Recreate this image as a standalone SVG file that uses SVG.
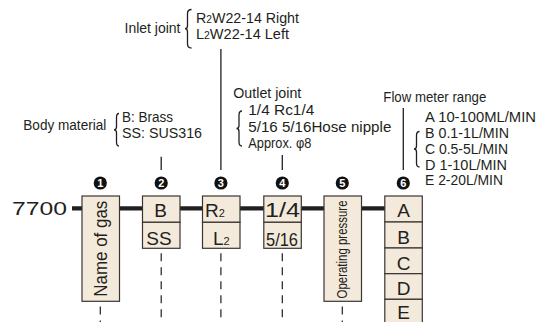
<svg xmlns="http://www.w3.org/2000/svg" width="537" height="322" viewBox="0 0 537 322">
<style>
.lbl{font-family:"Liberation Sans",Arial,sans-serif;font-size:14px;fill:#231f20}
.box{fill:#f4eadb;stroke:#3a3533;stroke-width:1.2}
.big{font-family:"Liberation Sans",Arial,sans-serif;font-size:19px;fill:#231f20}
.sub{font-size:10px}
.num{font-family:"Liberation Sans",Arial,sans-serif;font-size:11px;font-weight:bold;fill:#fff;text-anchor:middle}
.ln{stroke:#231f20;stroke-width:1.3;fill:none}
.dash{stroke:#231f20;stroke-width:1.2;stroke-dasharray:8 6;fill:none}
.brace{stroke:#231f20;stroke-width:1.3;fill:none}
</style>
<rect width="537" height="322" fill="#fff"/>
<g id="connectors">
<line x1="72" y1="208.3" x2="385" y2="208.3" stroke="#231f20" stroke-width="4.3"/>
<line class="ln" x1="161.2" y1="156.7" x2="161.2" y2="170"/>
<line class="ln" x1="220.9" y1="49" x2="220.9" y2="170"/>
<line class="ln" x1="282.3" y1="155" x2="282.3" y2="170"/>
<line class="ln" x1="403.3" y1="108" x2="403.3" y2="170"/>
<line class="dash" x1="100.3" y1="306.5" x2="100.3" y2="322"/>
<line class="dash" x1="161.2" y1="253.3" x2="161.2" y2="322"/>
<line class="dash" x1="220.9" y1="253.3" x2="220.9" y2="322"/>
<line class="dash" x1="282.3" y1="253.3" x2="282.3" y2="322"/>
<line class="dash" x1="342.3" y1="306.5" x2="342.3" y2="322"/>
</g>
<g id="code">
<text class="lbl" x="12" y="215" style="font-size:19px" textLength="55" lengthAdjust="spacingAndGlyphs">7700</text>
</g>
<g id="label-inlet">
<text class="lbl" x="124.5" y="33" textLength="56" lengthAdjust="spacingAndGlyphs">Inlet joint</text>
<path class="brace" d="M191.5,9.5 Q187.5,9.5 187.5,13.5 L187.5,25.7 Q187.5,28.7 185,28.7 Q187.5,28.7 187.5,31.7 L187.5,44 Q187.5,48 191.5,48"/>
<text class="lbl" x="196" y="23.3" textLength="103" lengthAdjust="spacingAndGlyphs">R<tspan class="sub">2</tspan>W22-14 Right</text>
<text class="lbl" x="196" y="39" textLength="93" lengthAdjust="spacingAndGlyphs">L<tspan class="sub">2</tspan>W22-14 Left</text>
</g>
<g id="label-body">
<text class="lbl" x="23.3" y="130" textLength="83" lengthAdjust="spacingAndGlyphs">Body material</text>
<path class="brace" d="M119,113.5 Q116.5,113.5 116.5,117.5 L116.5,126.8 Q116.5,129.8 114,129.8 Q116.5,129.8 116.5,132.8 L116.5,142 Q116.5,146 119,146"/>
<text class="lbl" x="122" y="121.7" textLength="51" lengthAdjust="spacingAndGlyphs">B: Brass</text>
<text class="lbl" x="122" y="138" textLength="80" lengthAdjust="spacingAndGlyphs">SS: SUS316</text>
</g>
<g id="label-outlet">
<text class="lbl" x="233.3" y="98.3" textLength="68" lengthAdjust="spacingAndGlyphs">Outlet joint</text>
<path class="brace" d="M242,111 Q239,111 239,115 L239,125.5 Q239,128.5 236.5,128.5 Q239,128.5 239,131.5 L239,142 Q239,146 242,146"/>
<text class="lbl" x="248.3" y="115" textLength="66" lengthAdjust="spacingAndGlyphs">1/4 Rc1/4</text>
<text class="lbl" x="248.3" y="131.5" textLength="143" lengthAdjust="spacingAndGlyphs">5/16 5/16Hose nipple</text>
<text class="lbl" x="248.3" y="148.3" textLength="63" lengthAdjust="spacingAndGlyphs">Approx. φ8</text>
</g>
<g id="label-flow">
<text class="lbl" x="383.3" y="102.3" textLength="103" lengthAdjust="spacingAndGlyphs">Flow meter range</text>
<path class="brace" d="M419.5,131.5 Q416.5,131.5 416.5,135.5 L416.5,146 Q416.5,149 414,149 Q416.5,149 416.5,152 L416.5,163 Q416.5,167 419.5,167"/>
<text class="lbl" x="425" y="122" textLength="111" lengthAdjust="spacingAndGlyphs">A 10-100ML/MIN</text>
<text class="lbl" x="425" y="138" textLength="84" lengthAdjust="spacingAndGlyphs">B 0.1-1L/MIN</text>
<text class="lbl" x="425" y="154" textLength="83" lengthAdjust="spacingAndGlyphs">C 0.5-5L/MIN</text>
<text class="lbl" x="425" y="169.5" textLength="82" lengthAdjust="spacingAndGlyphs">D 1-10L/MIN</text>
<text class="lbl" x="425" y="185" textLength="78" lengthAdjust="spacingAndGlyphs">E 2-20L/MIN</text>
</g>
<g id="node1">
<circle cx="100.3" cy="183" r="6.6" fill="#111"/>
<text class="num" x="100.3" y="187">1</text>
<rect class="box" x="82" y="196" width="37.5" height="105.3"/>
<text class="big" transform="translate(106.5,296.7) rotate(-90)" style="font-size:18px" textLength="96" lengthAdjust="spacingAndGlyphs">Name of gas</text>
</g>
<g id="node2">
<circle cx="161.2" cy="183" r="6.6" fill="#111"/>
<text class="num" x="161.2" y="187">2</text>
<rect class="box" x="142.5" y="196" width="37.5" height="26.3"/>
<rect class="box" x="142.5" y="222.3" width="37.5" height="26"/>
<text class="big" x="160.5" y="216.7" text-anchor="middle">B</text>
<text class="big" x="159" y="245" text-anchor="middle">SS</text>
</g>
<g id="node3">
<circle cx="220.9" cy="183" r="6.6" fill="#111"/>
<text class="num" x="220.9" y="187">3</text>
<rect class="box" x="202.5" y="196" width="37.5" height="26.3"/>
<rect class="box" x="202.5" y="222.3" width="37.5" height="26"/>
<text class="big" x="205" y="216.7">R<tspan class="sub" style="font-size:11px">2</tspan></text>
<text class="big" x="213" y="245">L<tspan class="sub" style="font-size:11px">2</tspan></text>
</g>
<g id="node4">
<circle cx="282.3" cy="183" r="6.6" fill="#111"/>
<text class="num" x="282.3" y="187">4</text>
<rect class="box" x="263.8" y="196" width="37.5" height="26.3"/>
<rect class="box" x="263.8" y="222.3" width="37.5" height="26"/>
<text class="big" x="265" y="216.7" style="font-size:20px" textLength="35" lengthAdjust="spacingAndGlyphs">1/4</text>
<text class="big" x="266" y="246" style="font-size:18px" textLength="32" lengthAdjust="spacingAndGlyphs">5/16</text>
</g>
<g id="node5">
<circle cx="342.3" cy="183" r="6.6" fill="#111"/>
<text class="num" x="342.3" y="187">5</text>
<rect class="box" x="324" y="196" width="37.5" height="105.3"/>
<text class="big" transform="translate(347,298.5) rotate(-90)" style="font-size:15px" textLength="98" lengthAdjust="spacingAndGlyphs">Operating pressure</text>
</g>
<g id="node6">
<circle cx="403.3" cy="183" r="6.6" fill="#111"/>
<text class="num" x="403.3" y="187">6</text>
<rect class="box" x="384.8" y="196" width="37.5" height="26"/>
<rect class="box" x="384.8" y="222" width="37.5" height="26"/>
<rect class="box" x="384.8" y="248" width="37.5" height="25.7"/>
<rect class="box" x="384.8" y="273.7" width="37.5" height="25.6"/>
<rect class="box" x="384.8" y="299.3" width="37.5" height="30"/>
<text class="big" x="403.5" y="216.7" text-anchor="middle">A</text>
<text class="big" x="403.5" y="244" text-anchor="middle">B</text>
<text class="big" x="403.5" y="270" text-anchor="middle">C</text>
<text class="big" x="403.5" y="295" text-anchor="middle">D</text>
<text class="big" x="403.5" y="319" text-anchor="middle">E</text>
</g>
</svg>
